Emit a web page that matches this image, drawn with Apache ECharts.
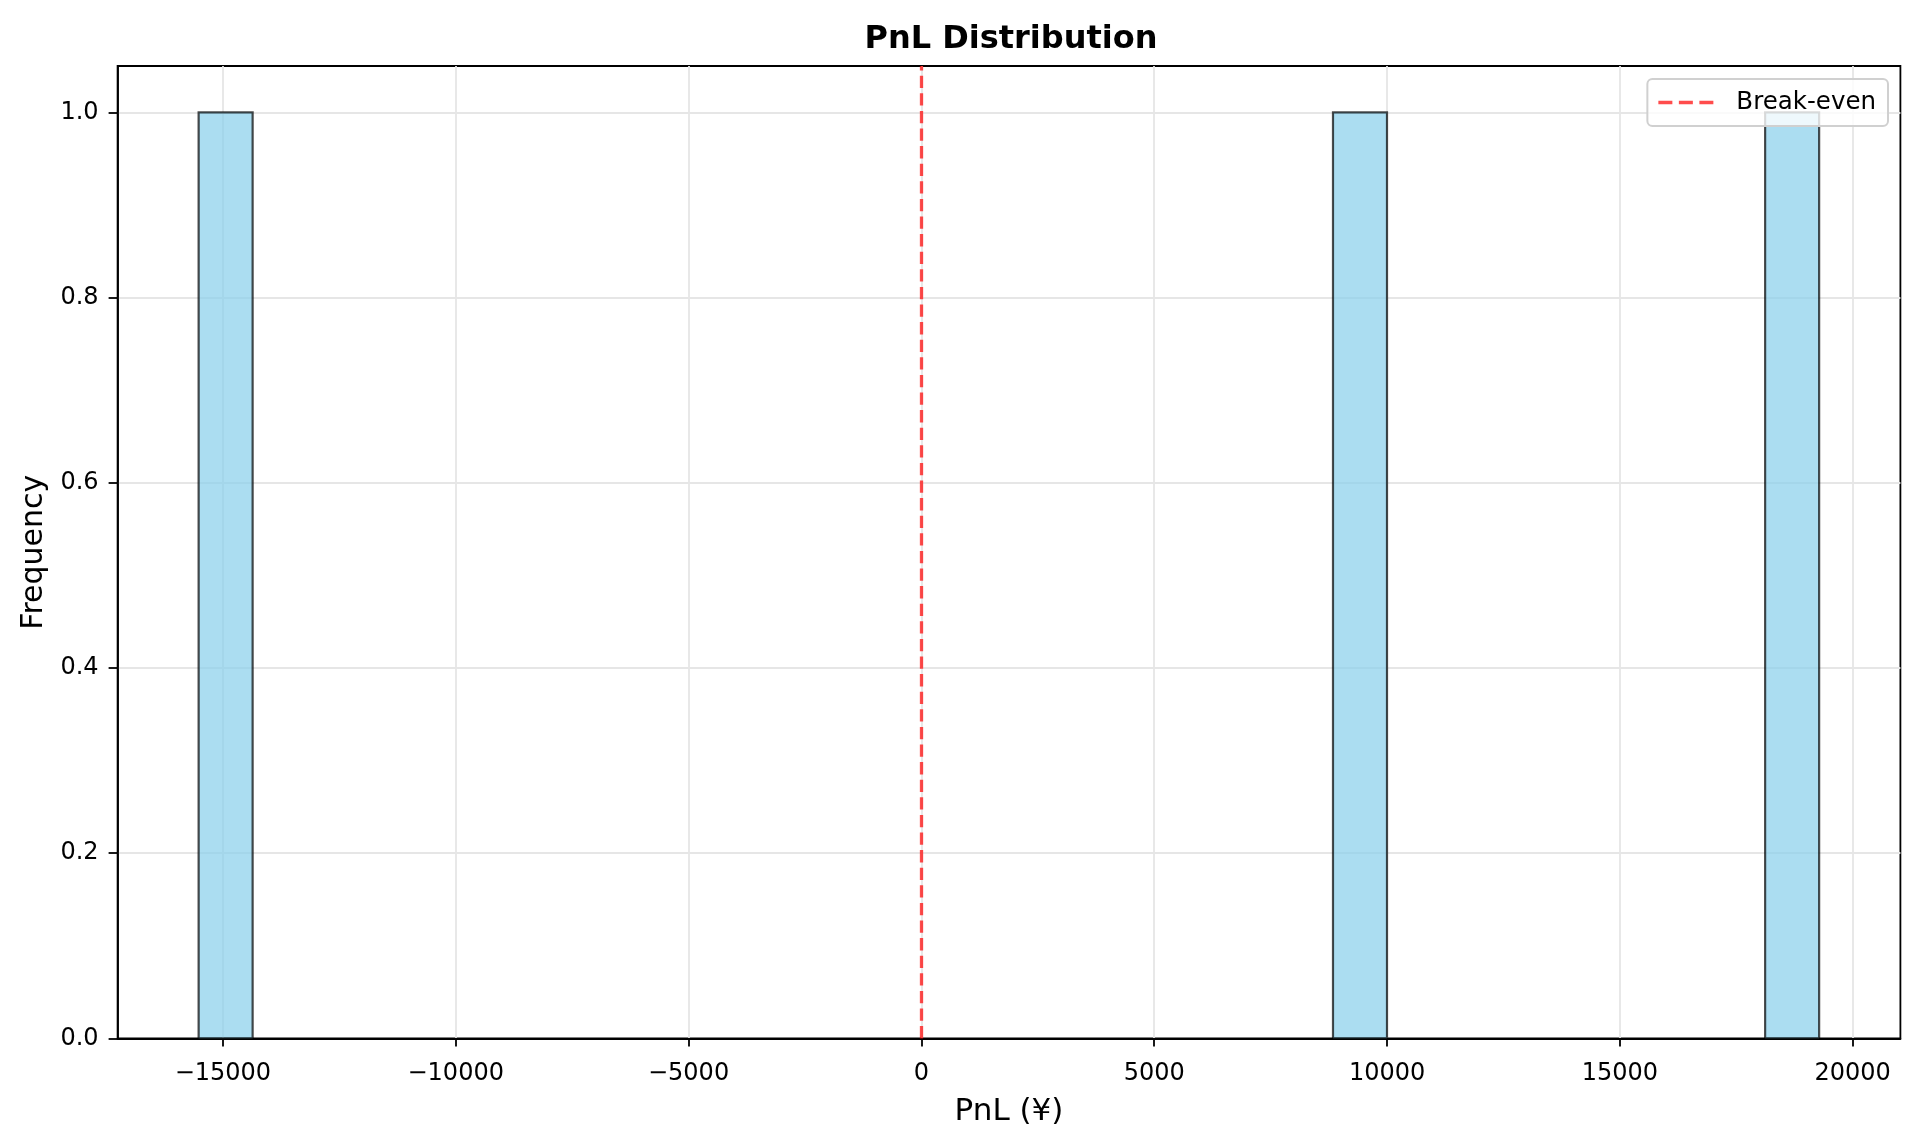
<!DOCTYPE html>
<html>
<head>
<meta charset="utf-8">
<script src="https://cdn.jsdelivr.net/npm/echarts@6/dist/echarts.min.js"></script>
<style>
html,body{margin:0;padding:0;background:#fff;}
#chart{width:1920px;height:1145px;}
</style>
</head>
<body>
<div id="chart"></div>
<script>
// Histogram bins that hold data (left edge, right edge, count)
const pnlBinLeft = [-15521, 8839, 18119];
const pnlBinRight = [-14361, 9999, 19279];
const frequency = [1, 1, 1];
// Axis ticks and limits
const xTickValues = [-15000, -10000, -5000, 0, 5000, 10000, 15000, 20000];
const yTickValues = [0, 0.2, 0.4, 0.6, 0.8, 1.0];
const xLimits = [-17261, 21024];
const yLimits = [0, 1.05];
const breakEvenValue = 0;

const FONT = 'DejaVu Sans';
const histData = pnlBinLeft.map((l, i) => [l, pnlBinRight[i], frequency[i]]);
const dashIcon = 'path://M0,0h14v3.5h-14z M20.5,0h14v3.5h-14z M41,0h14v3.5h-14z';

const chart = echarts.init(document.getElementById('chart'), null, {renderer: 'canvas'});
chart.setOption({
  animation: false,
  backgroundColor: '#ffffff',
  textStyle: {fontFamily: FONT},
  title: {
    text: 'PnL Distribution',
    left: 1006, top: 14, textAlign: 'center',
    textStyle: {fontFamily: FONT, fontSize: 32, fontWeight: 'bold', color: '#000', lineHeight: 42}
  },
  legend: {
    data: [{name: 'Break-even', icon: dashIcon}],
    right: 32, top: 79,
    orient: 'vertical',
    padding: [10, 12, 10, 11],
    itemWidth: 55, itemHeight: 3.5,
    backgroundColor: 'rgba(255,255,255,0.8)',
    borderColor: '#d0d0d0', borderWidth: 2, borderRadius: 5,
    textStyle: {fontFamily: FONT, fontSize: 24.5, color: '#000', lineHeight: 27, padding: [0, 0, 0, 18]}
  },
  grid: {
    left: 117.6, right: 19.6, top: 66, bottom: 106.6,
    show: true, borderColor: '#000', borderWidth: 1.8, backgroundColor: 'transparent'
  },
  xAxis: {
    type: 'value',
    min: xLimits[0], max: xLimits[1],
    name: 'PnL (¥)', nameLocation: 'middle', nameGap: 58,
    nameTextStyle: {fontFamily: FONT, fontSize: 31, color: '#000'},
    axisLine: {show: true, onZero: false, lineStyle: {color: '#000', width: 1.8}},
    axisTick: {show: true, customValues: xTickValues, length: 8, lineStyle: {color: '#000', width: 1.8}},
    axisLabel: {
      customValues: xTickValues, margin: 23,
      fontFamily: FONT, fontSize: 24, color: '#000', lineHeight: 24,
      formatter: v => (v < 0 ? '\u2212' + Math.abs(v) : String(v))
    },
    splitLine: {show: true, lineStyle: {color: '#e6e6e6', width: 1.8}}
  },
  yAxis: {
    type: 'value',
    min: yLimits[0], max: yLimits[1],
    name: 'Frequency', nameLocation: 'middle', nameGap: 61,
    nameTextStyle: {fontFamily: FONT, fontSize: 30, color: '#000'},
    axisLine: {show: true, onZero: false, lineStyle: {color: '#000', width: 1.8}},
    axisTick: {show: true, customValues: yTickValues, length: 9, lineStyle: {color: '#000', width: 1.8}},
    axisLabel: {
      customValues: yTickValues, margin: 19,
      fontFamily: FONT, fontSize: 24, color: '#000',
      formatter: v => v.toFixed(1)
    },
    splitLine: {show: true, lineStyle: {color: '#e6e6e6', width: 1.8}}
  },
  series: [
    {
      name: 'PnL',
      type: 'custom',
      data: histData,
      encode: {x: [0, 1], y: 2},
      renderItem: function (params, api) {
        const p0 = api.coord([api.value(0), 0]);
        const p1 = api.coord([api.value(1), api.value(2)]);
        return {
          type: 'rect',
          shape: {x: p0[0], y: p1[1], width: p1[0] - p0[0], height: p0[1] - p1[1]},
          style: {fill: 'rgba(135,206,235,0.7)', stroke: 'rgba(0,0,0,0.7)', lineWidth: 2.2}
        };
      },
      z: 2
    },
    {
      name: 'Break-even',
      type: 'line',
      data: [],
      symbol: 'none',
      lineStyle: {color: 'rgba(255,0,0,0.7)', width: 3.3, type: [12.3, 5.3]},
      itemStyle: {color: 'rgba(255,0,0,0.7)'},
      markLine: {
        silent: true,
        symbol: ['none', 'none'],
        label: {show: false},
        lineStyle: {color: 'rgba(255,0,0,0.7)', width: 3.3, type: [12.3, 5.3]},
        data: [{xAxis: breakEvenValue}]
      },
      z: 3
    }
  ]
});
</script>
</body>
</html>
